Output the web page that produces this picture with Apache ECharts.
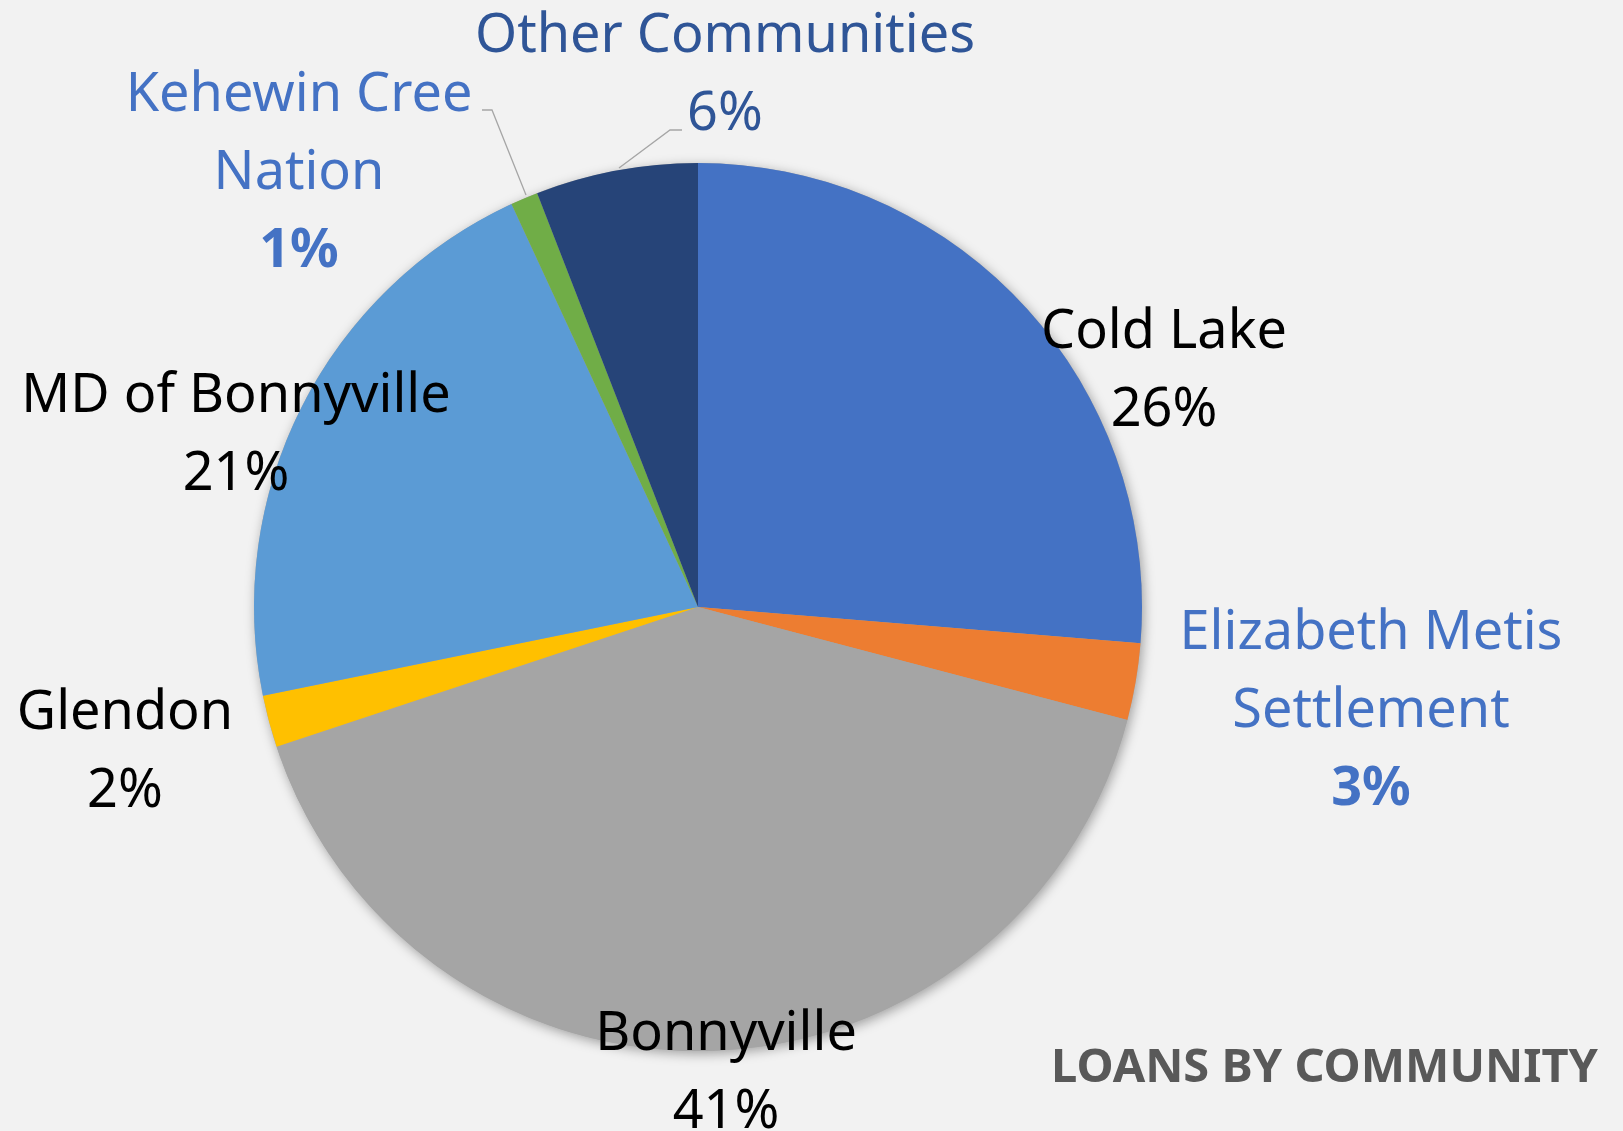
<!DOCTYPE html>
<html>
<head>
<meta charset="utf-8">
<script src="https://cdn.jsdelivr.net/npm/echarts@6/dist/echarts.min.js"></script>
<style>
  html, body { margin: 0; padding: 0; background: #F2F2F2; }
  #chart { width: 1623px; height: 1131px; }
</style>
</head>
<body>
<div id="chart"></div>
<script>
// ---- data ----
const categories = ['Cold Lake', 'Elizabeth Metis Settlement', 'Bonnyville', 'Glendon', 'MD of Bonnyville', 'Kehewin Cree Nation', 'Other Communities'];
const values = [26.3, 2.8, 40.8, 1.9, 21.3, 1.0, 5.9];
const chartTitle = 'LOANS BY COMMUNITY';

// ---- presentation ----
const colors = ['#4472C4', '#ED7D31', '#A5A5A5', '#FFC000', '#5B9BD5', '#70AD47', '#264478'];
const labelColors = ['#000000', '#4472C4', '#000000', '#000000', '#000000', '#4472C4', '#2F5597'];
const boldPct = [false, true, false, false, false, true, false];
const nameLines = {
  'Elizabeth Metis Settlement': ['Elizabeth Metis', 'Settlement'],
  'Kehewin Cree Nation': ['Kehewin Cree', 'Nation']
};
// label block centres (x, y) in pixels
const labelPos = [[1164, 372], [1371, 712], [726, 1074], [125, 753], [236, 436], [299, 174], [725, 76]];
// leader lines for small slices
const leaderLines = {
  5: [[526, 195], [492, 110], [482, 110]],
  6: [[619, 168], [670, 130], [682, 130]]
};

const total = values.reduce((a, b) => a + b, 0);

const data = categories.map((name, i) => ({
  name: name,
  value: values[i],
  itemStyle: { color: colors[i] },
  label: { color: labelColors[i] },
  labelLine: { show: !!leaderLines[i] }
}));

const chart = echarts.init(document.getElementById('chart'), null, { renderer: 'canvas' });
chart.setOption({
  backgroundColor: '#F2F2F2',
  animation: false,
  title: {
    text: chartTitle,
    right: 20,
    top: 1040,
    textStyle: { fontFamily: 'Noto Sans', fontSize: 47, fontWeight: 'bold', color: '#595959' }
  },
  series: [
    {
      type: 'pie',
      silent: true,
      z: 1,
      center: [698, 607],
      radius: 444,
      data: [{ value: 1, itemStyle: { color: '#A5A5A5', shadowBlur: 12, shadowColor: 'rgba(0,0,0,0.35)', shadowOffsetX: 2, shadowOffsetY: 3 } }],
      label: { show: false },
      labelLine: { show: false }
    },
    {
      type: 'pie',
      z: 2,
      center: [698, 607],
      radius: 444,
      startAngle: 90,
      clockwise: true,
      avoidLabelOverlap: false,
      itemStyle: { borderWidth: 0 },
      data: data,
      label: {
        show: true,
        position: 'outside',
        fontFamily: 'Noto Sans',
        fontSize: 54,
        lineHeight: 78,
        align: 'center',
        formatter: function (p) {
          const i = p.dataIndex;
          const pct = Math.round(p.value / total * 100) + '%';
          const lines = nameLines[p.name] || [p.name];
          const nameStr = lines.map(l => '{n|' + l + '}').join('\n');
          return nameStr + '\n' + (boldPct[i] ? '{b|' + pct + '}' : '{n|' + pct + '}');
        },
        rich: {
          n: { fontFamily: 'Noto Sans', fontSize: 54, lineHeight: 78, align: 'center' },
          b: { fontFamily: 'Noto Sans', fontSize: 54, lineHeight: 78, fontWeight: 'bold', align: 'center' }
        }
      },
      labelLine: {
        show: false,
        lineStyle: { color: '#A6A6A6', width: 1.3 }
      },
      labelLayout: function (params) {
        const i = params.dataIndex;
        const out = {
          x: labelPos[i][0],
          y: labelPos[i][1],
          align: 'center',
          verticalAlign: 'middle'
        };
        if (leaderLines[i]) out.labelLinePoints = leaderLines[i];
        return out;
      }
    }
  ]
});
</script>
</body>
</html>
